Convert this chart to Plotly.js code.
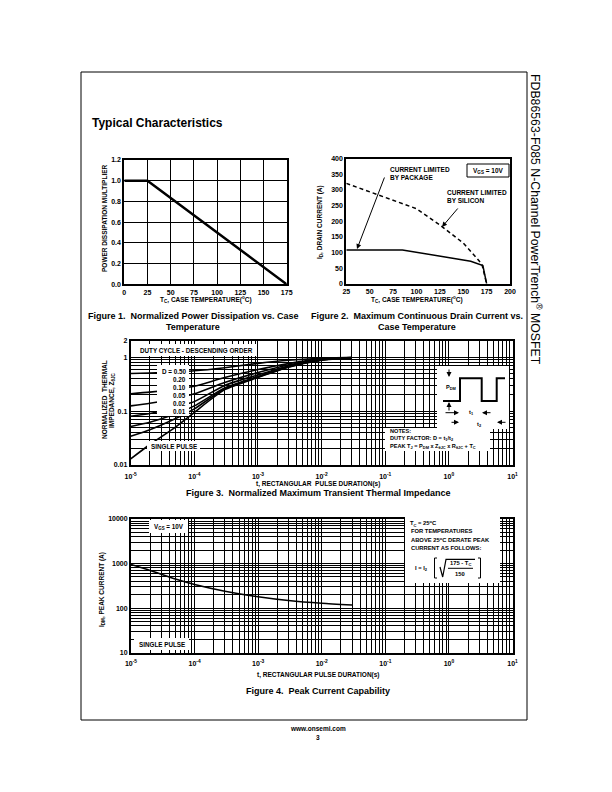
<!DOCTYPE html>
<html><head><meta charset="utf-8">
<script src="https://cdn.plot.ly/plotly-3.0.1.min.js"></script>
<style>html,body{margin:0;padding:0;background:#fff}#c{width:612px;height:792px}</style>
</head><body><div id="c"></div>
<script>
// ---------------- DATA ----------------
// Figure 1: Normalized power dissipation vs case temperature
const fig1Temp = [0, 25, 175];
const fig1Mult = [1.0, 1.0, 0.0];
const fig1XTicks = [0, 25, 50, 75, 100, 125, 150, 175];
const fig1YTicks = [0, 0.2, 0.4, 0.6, 0.8, 1.0, 1.2];
const fig1YText = ['0.0', '0.2', '0.4', '0.6', '0.8', '1.0', '1.2'];

// Figure 2: Max continuous drain current vs case temperature
const fig2PkgTemp = [25, 85, 158, 169, 171, 175];
const fig2PkgCurrent = [108, 108, 72, 62, 58, 0];
const fig2SiTemp = [25, 50, 75, 100, 125, 150, 165, 170, 175];
const fig2SiCurrent = [321, 294, 268, 240, 188, 130, 80, 62, 0];
const fig2XTicks = [25, 50, 75, 100, 125, 150, 175, 200];
const fig2YTicks = [0, 50, 100, 150, 200, 250, 300, 350, 400];

// Figure 3: Normalized transient thermal impedance
const fig3Time = [1e-5, 2e-5, 5e-5, 1e-4, 3e-4, 1e-3, 3e-3, 1e-2, 3e-2];
const fig3D050 = [0.50, 0.51, 0.535, 0.56, 0.64, 0.77, 0.88, 0.96, 1.0];
const fig3D020 = [0.21, 0.225, 0.255, 0.29, 0.42, 0.59, 0.76, 0.93, 0.99];
const fig3D010 = [0.125, 0.14, 0.17, 0.21, 0.34, 0.52, 0.72, 0.91, 0.98];
const fig3D005 = [0.08, 0.09, 0.12, 0.15, 0.30, 0.47, 0.69, 0.90, 0.98];
const fig3D002 = [0.052, 0.062, 0.088, 0.125, 0.27, 0.44, 0.67, 0.89, 0.98];
const fig3D001 = [0.034, 0.045, 0.072, 0.11, 0.26, 0.43, 0.66, 0.89, 0.98];
const fig3Single = [0.013, 0.024, 0.05, 0.095, 0.25, 0.42, 0.65, 0.88, 0.98];
const fig3Series = [fig3D050, fig3D020, fig3D010, fig3D005, fig3D002, fig3D001, fig3Single];
const dutyLabels = ['D = 0.50', '0.20', '0.10', '0.05', '0.02', '0.01'];

// Figure 4: Peak current capability
const fig4Time = [1e-5, 2e-5, 5e-5, 1e-4, 3e-4, 1e-3, 3e-3, 1e-2, 3e-2];
const fig4Current = [950, 700, 450, 340, 240, 180, 148, 128, 117];

const timeDecades = [-5, -4, -3, -2, -1, 0, 1];
const fig3YTicks = [0.01, 0.1, 1, 2];
const fig3YText = ['0.01', '0.1', '1', '2'];
const fig4YTicks = [10, 100, 1000, 10000];
const fig4YText = ['10', '100', '1000', '10000'];

// ---------------- HELPERS ----------------
const W = 612, H = 792;
const F = 'Liberation Sans, Arial, Helvetica, sans-serif';
const px = x => x / W;
const py = y => 1 - y / H;

function T(text, x, y, size, o) {
  return Object.assign({
    text: text, xref: 'paper', yref: 'paper', x: px(x), y: py(y),
    showarrow: false, xanchor: 'center', yanchor: 'middle',
    font: {family: F, size: size, color: '#000', weight: 'bold'}
  }, o || {});
}
function ARROW(hx, hy, tx, ty) {
  return {text: '', xref: 'paper', yref: 'paper', x: px(hx), y: py(hy),
    ax: tx - hx, ay: ty - hy, axref: 'pixel', ayref: 'pixel',
    showarrow: true, arrowhead: 2, arrowsize: 1, arrowwidth: 1, arrowcolor: '#000'};
}
function RECT(x0, y0, x1, y1, o) {
  return Object.assign({type: 'rect', xref: 'paper', yref: 'paper', layer: 'above',
    x0: px(x0), x1: px(x1), y0: py(y1), y1: py(y0),
    fillcolor: '#fff', line: {width: 0, color: '#000'}}, o || {});
}
function LINE(x0, y0, x1, y1, w) {
  return {type: 'line', xref: 'paper', yref: 'paper', layer: 'above',
    x0: px(x0), x1: px(x1), y0: py(y0), y1: py(y1), line: {color: '#000', width: w || 1}};
}
function PATH(pts, w) {
  let d = pts.map((p, i) => (i ? 'L' : 'M') + px(p[0]) + ',' + py(p[1])).join(' ');
  return {type: 'path', xref: 'paper', yref: 'paper', layer: 'above', path: d,
    line: {color: '#000', width: w || 1}};
}
// minor grid positions 2..9 x 10^d inside [d0, d1]
function minorVals(d0, d1, extra) {
  const v = [];
  for (let d = d0; d < d1; d++) for (let m = 2; m <= 9; m++) v.push(m * Math.pow(10, d));
  return v.concat(extra || []);
}
const tickFont = {family: F, size: 7, color: '#000', weight: 'bold'};
function baseAxis(o) {
  return Object.assign({
    showgrid: true, gridcolor: '#000', gridwidth: 1, zeroline: false,
    showline: true, mirror: true, linecolor: '#000', linewidth: 2,
    ticks: '', tickfont: tickFont, fixedrange: true
  }, o);
}
function minorGrid(vals) {
  return {tickmode: 'array', tickvals: vals, showgrid: true, gridcolor: '#000', gridwidth: 1, ticks: ''};
}

// ---------------- TRACES ----------------
const traces = [];
traces.push({x: fig1Temp, y: fig1Mult, xaxis: 'x', yaxis: 'y', mode: 'lines',
  line: {color: '#000', width: 2.5}, showlegend: false, hoverinfo: 'skip'});
traces.push({x: fig2SiTemp, y: fig2SiCurrent, xaxis: 'x2', yaxis: 'y2', mode: 'lines',
  line: {color: '#000', width: 1.5, dash: '4px,3px'}, showlegend: false, hoverinfo: 'skip'});
traces.push({x: fig2PkgTemp, y: fig2PkgCurrent, xaxis: 'x2', yaxis: 'y2', mode: 'lines',
  line: {color: '#000', width: 1.5}, showlegend: false, hoverinfo: 'skip'});
fig3Series.forEach(s => traces.push({x: fig3Time, y: s, xaxis: 'x3', yaxis: 'y3', mode: 'lines',
  line: {color: '#000', width: 1.6, shape: 'spline', smoothing: 0.6}, showlegend: false, hoverinfo: 'skip'}));
traces.push({x: fig4Time, y: fig4Current, xaxis: 'x4', yaxis: 'y4', mode: 'lines',
  line: {color: '#000', width: 1.5, shape: 'spline', smoothing: 0.6}, showlegend: false, hoverinfo: 'skip'});

// ---------------- AXES ----------------
const xTickVals = timeDecades.map(d => Math.pow(10, d));
const xTickText = timeDecades.map(d => '10<sup>' + d + '</sup>');
const xMinor = minorVals(-5, 1);

const layout = {
  width: W, height: H, margin: {l: 0, r: 0, t: 0, b: 0},
  paper_bgcolor: '#fff', plot_bgcolor: '#fff', showlegend: false,
  font: {family: F, color: '#000'},
  xaxis: baseAxis({domain: [px(124.3), px(286.7)], range: [0, 175], tickvals: fig1XTicks, anchor: 'y'}),
  yaxis: baseAxis({domain: [py(284.3), py(160)], range: [0, 1.2], tickvals: fig1YTicks, ticktext: fig1YText, anchor: 'x'}),
  xaxis2: baseAxis({domain: [px(346.3), px(510)], range: [25, 200], tickvals: fig2XTicks, anchor: 'y2', showgrid: false}),
  yaxis2: baseAxis({domain: [py(283.7), py(158.7)], range: [0, 400], tickvals: fig2YTicks, anchor: 'x2', showgrid: false}),
  xaxis3: baseAxis({domain: [px(130.7), px(512.5)], type: 'log', range: [-5, 1], tickvals: xTickVals, ticktext: xTickText, anchor: 'y3', ticklabelstandoff: 4, minor: minorGrid(xMinor)}),
  yaxis3: baseAxis({domain: [py(465), py(341)], type: 'log', range: [-2, Math.log10(2)], tickvals: fig3YTicks, ticktext: fig3YText, anchor: 'x3', minor: minorGrid(minorVals(-2, 0))}),
  xaxis4: baseAxis({domain: [px(131), px(512.5)], type: 'log', range: [-5, 1], tickvals: xTickVals, ticktext: xTickText, anchor: 'y4', ticklabelstandoff: 3, minor: minorGrid(xMinor)}),
  yaxis4: baseAxis({domain: [py(652.7), py(519)], type: 'log', range: [1, 4], tickvals: fig4YTicks, ticktext: fig4YText, anchor: 'x4', minor: minorGrid(minorVals(1, 4))}),
  shapes: [], annotations: []
};
const S = layout.shapes, A = layout.annotations;

// Page frame
S.push({type: 'rect', xref: 'paper', yref: 'paper', layer: 'above', x0: px(81), x1: px(527), y0: py(720), y1: py(72), line: {color: '#000', width: 1}});

// Header & side text & footer
A.push(T('Typical Characteristics', 90, 123, 12, {xanchor: 'left'}));
A.push(T('FDB86563-F085 N-Channel PowerTrench<sup>®</sup> MOSFET', 536, 219, 12.3, {textangle: 90, font: {family: F, size: 12.3, color: '#000'}}));
A.push(T('www.onsemi.com', 318, 728, 6.5));
A.push(T('3', 318, 737, 6.5));

// Figure 1 labels
A.push(T('POWER DISSIPATION MULTIPLIER', 104, 218, 6.5, {textangle: -90}));
A.push(T('T<sub>C</sub>, CASE TEMPERATURE(<sup>o</sup>C)', 206, 299, 6.5));
A.push(T('Figure 1.  Normalized Power Dissipation vs. Case', 193, 316, 9));
A.push(T('Temperature', 193, 327, 9));

// Figure 2 labels
A.push(T('I<sub>D</sub>, DRAIN CURRENT (A)', 320, 222, 6.5, {textangle: -90}));
A.push(T('T<sub>C</sub>, CASE TEMPERATURE(<sup>o</sup>C)', 417, 299, 6.5));
A.push(T('Figure 2.  Maximum Continuous Drain Current vs.', 417, 316, 9));
A.push(T('Case Temperature', 417, 327, 9));
A.push(T('CURRENT LIMITED<br>BY PACKAGE', 388, 173, 6.5, {xanchor: 'left', align: 'left'}));
A.push(T('CURRENT LIMITED<br>BY SILICON', 445, 197, 6.5, {xanchor: 'left', align: 'left'}));
S.push(RECT(467, 164, 509, 177, {line: {width: 1, color: '#000'}}));
A.push(T('V<sub>GS</sub> = 10V', 488, 170.5, 6.5));
A.push(ARROW(357, 249, 385, 176));
A.push(ARROW(442, 227, 459, 207));

// Figure 3 labels
A.push(T('NORMALIZED  THERMAL', 104, 400, 6.5, {textangle: -90}));
A.push(T('IMPEDANCE, Z<sub>θJC</sub>', 112, 400, 6.5, {textangle: -90}));
A.push(T('t, RECTANGULAR  PULSE DURATION(s)', 318, 484, 6.5));
A.push(T('Figure 3.  Normalized Maximum Transient Thermal Impedance', 318, 493, 9));
S.push(RECT(136, 344, 257, 356));
A.push(T('DUTY CYCLE - DESCENDING ORDER', 196.5, 350, 6.3));
S.push(RECT(157, 365, 189, 416));
dutyLabels.forEach((d, i) => A.push(T(d, 188, 371 + i * 8.05, 6.3, {xanchor: 'right'})));
S.push(RECT(147, 441, 200, 451));
A.push(T('SINGLE PULSE', 174, 446, 6.3));
// notes and pulse diagram
S.push(RECT(385, 428, 490, 451));
S.push(RECT(437, 366, 509, 429));
A.push(T('NOTES:<br>DUTY FACTOR: D = t<sub>1</sub>/t<sub>2</sub><br>PEAK T<sub>J</sub> = P<sub>DM</sub> x Z<sub>θJC</sub> x R<sub>θJC</sub> + T<sub>C</sub>', 388, 438.5, 5.6, {xanchor: 'left', align: 'left'}));
S.push(PATH([[443, 401], [460, 401], [460, 378.3], [481.7, 378.3], [481.7, 401], [496.7, 401], [496.7, 378.3], [505, 378.3]], 2));
A.push(T('P<sub>DM</sub>', 451, 387, 5.6));
A.push(ARROW(449, 377, 449, 368));
A.push(ARROW(449, 402, 449, 412));
A.push(ARROW(459, 412.7, 444, 412.7));
A.push(ARROW(482, 412.7, 492, 412.7));
A.push(T('t<sub>1</sub>', 471, 412.3, 5.6));
A.push(ARROW(459, 422.3, 450, 422.3));
A.push(ARROW(497, 422.3, 507, 422.3));
A.push(T('t<sub>2</sub>', 479, 424, 5.6));

// Figure 4 labels
A.push(T('I<sub>DM</sub>, PEAK CURRENT (A)', 102, 590, 6.5, {textangle: -90}));
A.push(T('t, RECTANGULAR PULSE DURATION(s)', 318, 675, 6.5));
A.push(T('Figure 4.  Peak Current Capability', 318, 691, 9));
S.push(RECT(149, 520, 188, 533));
A.push(T('V<sub>GS</sub> = 10V', 168.5, 526.5, 6.3));
S.push(RECT(134, 638, 189, 650));
A.push(T('SINGLE PULSE', 161.5, 644, 6.3));
S.push(RECT(405, 517, 500, 583));
A.push(T('T<sub>C</sub> = 25<sup>o</sup>C', 407.5, 523.3, 5.8, {xanchor: 'left'}));
A.push(T('FOR TEMPERATURES', 409, 531, 5.8, {xanchor: 'left'}));
A.push(T('ABOVE 25<sup>o</sup>C DERATE PEAK', 409, 539, 5.8, {xanchor: 'left'}));
A.push(T('CURRENT AS FOLLOWS:', 409, 547.7, 5.8, {xanchor: 'left'}));
A.push(T('I = I<sub>2</sub>', 421, 568.3, 5.8));
A.push(T('175 - T<sub>C</sub>', 460, 563, 5.8));
A.push(T('150', 460, 574, 5.8));
S.push(PATH([[437, 558], [434.5, 558], [434.5, 578], [437, 578]], 1));
S.push(PATH([[478, 558], [480.5, 558], [480.5, 578], [478, 578]], 1));
S.push(PATH([[440, 567], [442.7, 577], [446, 559.3], [475, 559.3]], 1.2));
S.push(LINE(448, 568.3, 473, 568.3, 1));

Plotly.newPlot('c', traces, layout, {staticPlot: true, displayModeBar: false});
</script>
</body></html>
